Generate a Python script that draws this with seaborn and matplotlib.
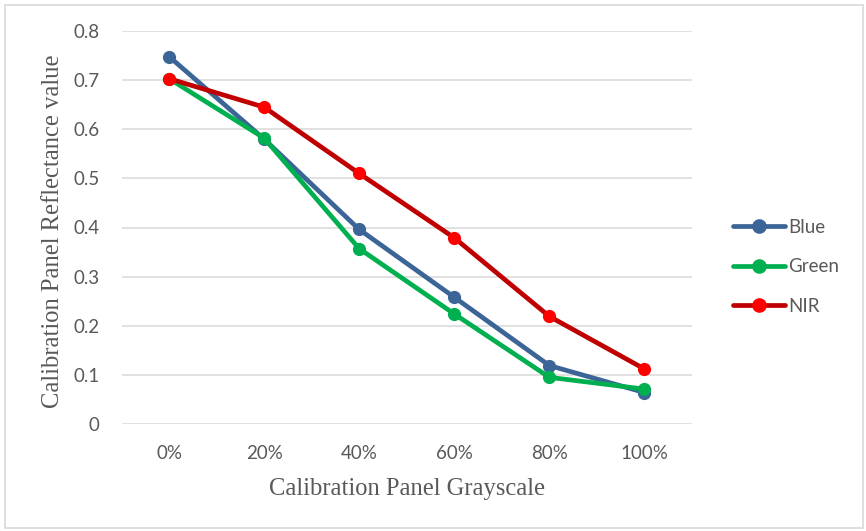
import matplotlib
matplotlib.use("Agg")
import matplotlib.pyplot as plt
from matplotlib.lines import Line2D
from matplotlib.patches import Rectangle
import numpy as np
import pandas as pd
import seaborn as sns

# Calibration panel grayscale levels and measured reflectance per band
grayscale = ["0%", "20%", "40%", "60%", "80%", "100%"]
blue = [0.748, 0.580, 0.396, 0.258, 0.119, 0.064]
green = [0.703, 0.582, 0.357, 0.224, 0.095, 0.071]
nir = [0.703, 0.645, 0.510, 0.379, 0.219, 0.112]
bands = ["Blue", "Green", "NIR"]
y_ticks = [0, 0.1, 0.2, 0.3, 0.4, 0.5, 0.6, 0.7, 0.8]
y_tick_labels = ["0", "0.1", "0.2", "0.3", "0.4", "0.5", "0.6", "0.7", "0.8"]

line_colors = {"Blue": "#3B6497", "Green": "#00B050", "NIR": "#C00000"}
marker_colors = {"Blue": "#3B6497", "Green": "#00B050", "NIR": "#FF0000"}

positions = np.arange(len(grayscale))
df = pd.DataFrame({
    "pos": np.tile(positions, 3),
    "value": blue + green + nir,
    "band": np.repeat(bands, len(grayscale)),
})

sns.set_theme(style="white")
tick_font = "Lato"
label_font = "Liberation Serif"
text_gray = "#595959"

fig = plt.figure(figsize=(8.66, 5.31), dpi=100)
ax = fig.add_axes([121.5 / 866, 1 - 424 / 531, 570.5 / 866, 393 / 531])

sns.lineplot(data=df, x="pos", y="value", hue="band", hue_order=bands,
             palette=line_colors, marker="o", markersize=9.5,
             markeredgewidth=0, linewidth=3.4, sort=False, legend=False,
             ax=ax)

for line, band in zip(ax.lines, bands):
    line.set_markerfacecolor(marker_colors[band])
    line.set_markeredgecolor(marker_colors[band])
    line.set_solid_capstyle("round")

ax.set_xlim(-0.5, len(grayscale) - 0.5)
ax.set_ylim(0, 0.8)
ax.set_xticks(positions)
ax.set_xticklabels(grayscale, fontfamily=tick_font, fontsize=13.5, color=text_gray)
ax.set_yticks(y_ticks)
ax.set_yticklabels(y_tick_labels, fontfamily=tick_font, fontsize=13.5, color=text_gray)
ax.tick_params(axis="both", length=0)
ax.tick_params(axis="y", pad=16)
ax.tick_params(axis="x", pad=15)

ax.grid(axis="y", color="#D9D9D9", linewidth=1.1)
ax.grid(axis="x", visible=False)
for s in ax.spines.values():
    s.set_visible(False)

ax.set_xlabel("Calibration Panel Grayscale", fontfamily=label_font,
              fontsize=17.7, color=text_gray)
ax.set_ylabel("Calibration Panel Reflectance value", fontfamily=label_font,
              fontsize=17.7, color=text_gray)
ax.xaxis.set_label_coords(0.5, -0.165)
ax.yaxis.set_label_coords(-0.12, 0.49)
ax.xaxis.label.set_verticalalignment("center")
ax.yaxis.label.set_verticalalignment("center")

handles = [Line2D([0], [0], color=line_colors[b], linewidth=3.4, marker="o",
                  markersize=9.5, markerfacecolor=marker_colors[b],
                  markeredgecolor=marker_colors[b], solid_capstyle="round")
           for b in bands]
leg = fig.legend(handles, bands, loc="center left",
                 bbox_to_anchor=(724 / 866, 1 - 267 / 531),
                 frameon=False, borderpad=0, handlelength=2.75,
                 handletextpad=0.15, labelspacing=1.2,
                 prop={"family": tick_font, "size": 13.5})
for t in leg.get_texts():
    t.set_color(text_gray)

# chart-area border
fig.patches.append(Rectangle((5 / 866, 3 / 531), 858 / 866, 523 / 531,
                             transform=fig.transFigure, fill=False,
                             edgecolor="#D9D9D9", linewidth=1.2))

fig.savefig("out.png", dpi=100, facecolor="white")
